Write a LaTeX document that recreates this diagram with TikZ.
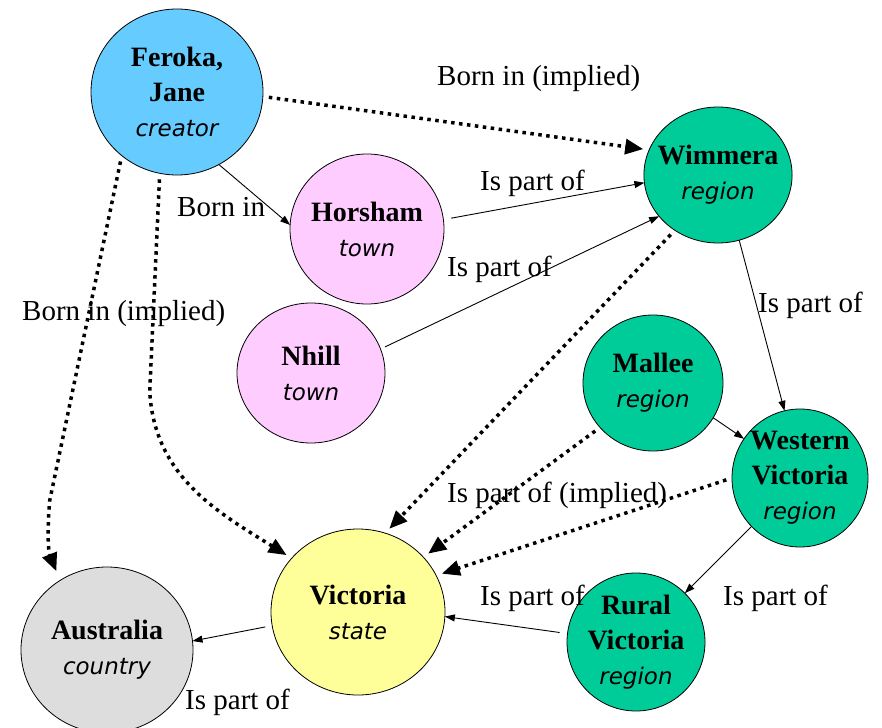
\documentclass[tikz,border=0pt]{standalone}
\usepackage{fontspec}
\setmainfont{Liberation Serif}
\newfontfamily\rolefont{DejaVu Sans}
\usetikzlibrary{arrows.meta,shapes.geometric}
\definecolor{cblue}{RGB}{102,204,255}
\definecolor{cpink}{RGB}{255,204,255}
\definecolor{cgreen}{RGB}{0,204,153}
\definecolor{cyellow}{RGB}{255,255,153}
\definecolor{cgrey}{RGB}{221,221,221}
\newcommand\rolename[1]{{\rolefont\itshape\mdseries\fontsize{23}{35}\selectfont #1}}
\tikzset{
  ent/.style={ellipse, draw=black, line width=0.8pt, inner sep=-8pt, outer sep=0pt, align=center,
    font=\fontsize{28}{35}\selectfont\bfseries},
  rel/.style={draw, line width=0.9pt, -{Triangle[length=10pt,width=7pt]}},
  implied/.style={draw, line width=3.5pt, dash pattern=on 3.5pt off 4.5pt,
    -{Triangle[length=18pt,width=15pt]}, shorten >=6pt, shorten <=6pt},
  lbl/.style={anchor=base west, inner sep=0pt, font=\fontsize{29}{33}\selectfont}
}
\begin{document}
\begin{tikzpicture}[x=1pt,y=-1pt]
\useasboundingbox (0,0) rectangle (882,727);
% entities
\node[ent, fill=cblue,  minimum width=172pt, minimum height=166pt] (fer) at (177,92) {Feroka,\\Jane\\\rolename{creator}};
\node[ent, fill=cpink,  minimum width=154pt, minimum height=150pt] (hor) at (367,229) {Horsham\\\rolename{town}};
\node[ent, fill=cpink,  minimum width=148pt, minimum height=140pt] (nhi) at (311,373) {Nhill\\\rolename{town}};
\node[ent, fill=cgreen, minimum width=146pt, minimum height=136pt] (wim) at (718,175) {Wimmera\\\rolename{region}};
\node[ent, fill=cgreen, minimum width=140pt, minimum height=136pt] (mal) at (653,383) {Mallee\\\rolename{region}};
\node[ent, fill=cgreen, minimum width=136pt, minimum height=138pt] (wes) at (800,478) {Western\\Victoria\\\rolename{region}};
\node[ent, fill=cyellow,minimum width=174pt, minimum height=166pt] (vic) at (358,612) {Victoria\\\rolename{state}};
\node[ent, fill=cgrey,  minimum width=172pt, minimum height=166pt] (aus) at (107,650) {Australia\\\rolename{country}};
\node[ent, fill=cgreen, minimum width=138pt, minimum height=138pt] (rur) at (636,642) {Rural\\Victoria\\\rolename{region}};
% connectors
\draw[rel] (fer.-60.7) -- (hor.177);
\draw[implied] (fer.-3) -- (wim.160);
\draw[rel, shorten <=8pt] (hor.7) -- (wim.-174);
\draw[rel, shorten <=5pt] (nhi.19) -- (wim.215);
\draw[implied] (wim.232) -- (vic.71);
\draw[rel] (wim.-72) -- (wes.103);
\draw[implied, shorten >=10pt] (fer.229) -- ++(-72,345) to[out=-95,in=112] (aus.124);
\draw[implied] (fer.258) -- ++(-10,218) to[out=-87,in=148] (vic.141);
\draw[implied] (mal.220) -- (vic.40);
\draw[implied] (wes.180) -- (vic.25);
\draw[rel, shorten <=7pt] (vic.189) -- (aus.6);
\draw[rel] (mal.-30) -- (wes.145);
\draw[rel] (wes.225) -- (rur.45);
\draw[rel, shorten <=8pt] (rur.173) -- (vic.-3);
% labels
\node[lbl] (l1) at (437,86) {Born in (implied)};
\node[lbl] (l2) at (177,217) {Born in};
\node[lbl] (l3) at (480,191) {Is part of};
\node[lbl] (l4) at (447,276) {Is part of};
\node[lbl] (l5) at (758,312) {Is part of};
\node[lbl] (l6) at (22,320) {Born in (implied)};
\node[lbl] (l7) at (447,502) {Is part of (implied)};
\node[lbl] (l8) at (480,605) {Is part of};
\node[lbl] (l9) at (723,605) {Is part of};
\node[lbl] (l10) at (185,709) {Is part of};
\end{tikzpicture}
\end{document}
